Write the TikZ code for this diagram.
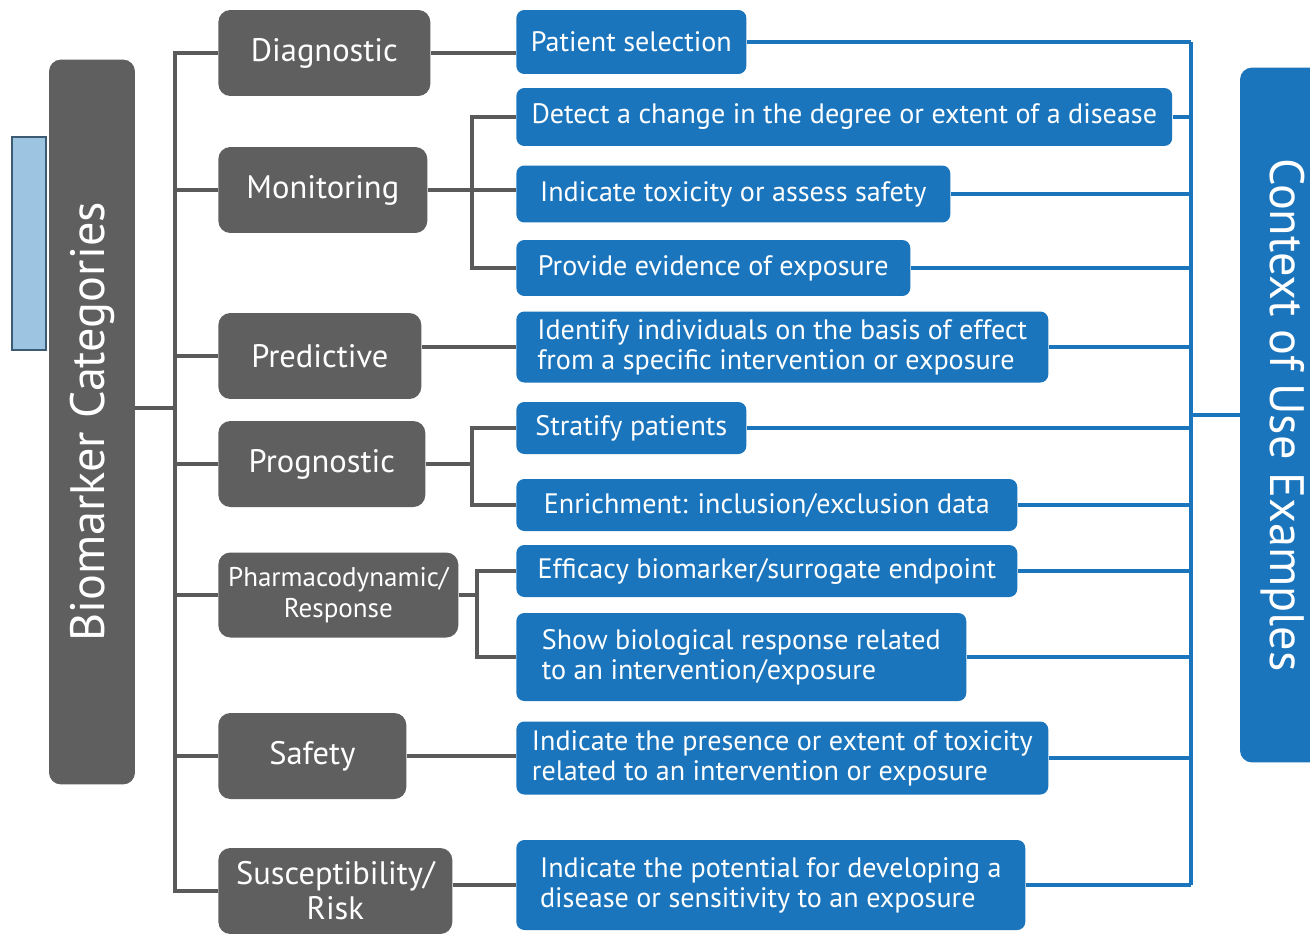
\documentclass[tikz,border=0pt]{standalone}
\usepackage{fontspec}
\setmainfont{PT Sans}
\usetikzlibrary{positioning}

\definecolor{catgray}{HTML}{5F5F5F}
\definecolor{cublue}{HTML}{1B75BC}
\definecolor{linegray}{HTML}{5A5A5A}
\definecolor{paleblue}{HTML}{9DC4E0}
\definecolor{paleedge}{HTML}{3E5B74}

\begin{document}
\begin{tikzpicture}[x=0.02cm, y=-0.02cm,
    cat/.style={fill=catgray, rounded corners=0.24cm, text=white, anchor=west, align=center,
      minimum height=1.72cm, inner sep=2pt, font=\fontsize{18.5}{20}\selectfont},
    use/.style={fill=cublue, rounded corners=0.16cm, text=white, anchor=west, align=left,
      inner sep=2pt, font=\fontsize{16}{17}\selectfont},
    bigbox/.style={rounded corners=0.24cm, text=white, minimum height=1.72cm, inner sep=0pt,
      font=\fontsize{27.5}{30}\selectfont},
    gline/.style={linegray, line width=2.3pt},
    bline/.style={cublue, line width=2pt}]
      \clip (0,0) rectangle (1310,933);
      \fill[white] (0,0) rectangle (1310,933);

      \draw[fill=paleblue, draw=paleedge, line width=1.5pt] (12,137) rectangle (46,350);
      \node[bigbox, fill=catgray, rotate=90, minimum width=14.5cm] (biom) at (92,422) {Biomarker Categories};
      \node[bigbox, fill=cublue, rotate=-90, minimum width=13.9cm] (ctx) at (1283,415) {Context of Use Examples};

      \node[cat, minimum width=4.24cm] (diag) at (218,53) {Diagnostic};
      \node[cat, minimum width=4.18cm] (moni) at (218,190) {Monitoring};
      \node[cat, minimum width=4.06cm] (pred) at (218,356) {Predictive};
      \node[cat, minimum width=4.14cm] (prog) at (218,464) {Prognostic};
      \node[cat, minimum width=4.80cm, minimum height=1.7cm, font=\fontsize{15.4}{18}\selectfont] (pharm) at (218,595) {Pharmacodynamic/\\Response};
      \node[cat, minimum width=3.76cm] (safe) at (218,756) {Safety};
      \node[cat, minimum width=4.68cm, font=\fontsize{18.5}{20}\selectfont] (susc) at (218,891) {Susceptibility/\\Risk};

      \node[use, minimum width=4.60cm, minimum height=1.28cm] (patsel) at (516,42) {Patient selection};
      \node[use, minimum width=13.12cm, minimum height=1.16cm] (detect) at (516,117) {Detect a change in the degree or extent of a disease};
      \node[use, minimum width=8.68cm, minimum height=1.14cm] (toxic) at (516,194) {Indicate toxicity or assess safety};
      \node[use, minimum width=7.88cm, minimum height=1.12cm] (expos) at (516,268) {Provide evidence of exposure};
      \node[use, minimum width=10.64cm, minimum height=1.42cm] (identif) at (516,347) {Identify individuals on the basis of effect\\from a specific intervention or exposure};
      \node[use, minimum width=4.60cm, minimum height=1.04cm] (strat) at (516,428) {Stratify patients};
      \node[use, minimum width=10.02cm, minimum height=1.04cm] (enrich) at (516,505) {Enrichment: inclusion/exclusion data};
      \node[use, minimum width=10.02cm, minimum height=1.04cm] (effic) at (516,571) {Efficacy biomarker/surrogate endpoint};
      \node[use, minimum width=9.00cm, minimum height=1.76cm] (biores) at (516,657) {Show biological response related\\to an intervention/exposure};
      \node[use, minimum width=10.64cm, minimum height=1.46cm] (toxpres) at (516,758) {Indicate the presence or extent of toxicity\\related to an intervention or exposure};
      \node[use, minimum width=10.18cm, minimum height=1.80cm] (potent) at (516,885) {Indicate the potential for developing a\\disease or sensitivity to an exposure};

      \coordinate (trunk) at (175,408);
      \coordinate (cubus) at (1191,415);

      \draw[gline] (biom.south |- trunk) -- (trunk);
      \draw[gline] (diag.west) -- (diag.west -| trunk) |- (susc.west);
      \foreach \c in {moni,pred,prog,pharm,safe}
        \draw[gline] (\c.west) -- (\c.west -| trunk);

      \draw[gline] (diag.east) -- (diag.east -| patsel.west);
      \draw[gline] (moni.east) -- (moni.east -| toxic.west);
      \draw[gline] (detect.west) -- ++(-44,0) |- (expos.west);
      \draw[gline] (pred.east |- identif.west) -- (identif.west);
      \draw[gline] (prog.east) -- ++(47,0);
      \draw[gline] (strat.west) -- ++(-44,0) |- (enrich.west);
      \draw[gline] (pharm.east) -- ++(19,0);
      \draw[gline] (effic.west) -- ++(-39,0) |- (biores.west);
      \draw[gline] (safe.east) -- (safe.east -| toxpres.west);
      \draw[gline] (susc.east |- potent.west) -- (potent.west);

      \draw[bline] (patsel.east -| cubus) -- (potent.east -| cubus);
      \foreach \u in {patsel,detect,toxic,expos,identif,strat,enrich,effic,biores,toxpres,potent}
        \draw[bline] (\u.east) -- (\u.east -| cubus);
      \draw[bline] (cubus) -- (ctx.south);
    \end{tikzpicture}
\end{document}
